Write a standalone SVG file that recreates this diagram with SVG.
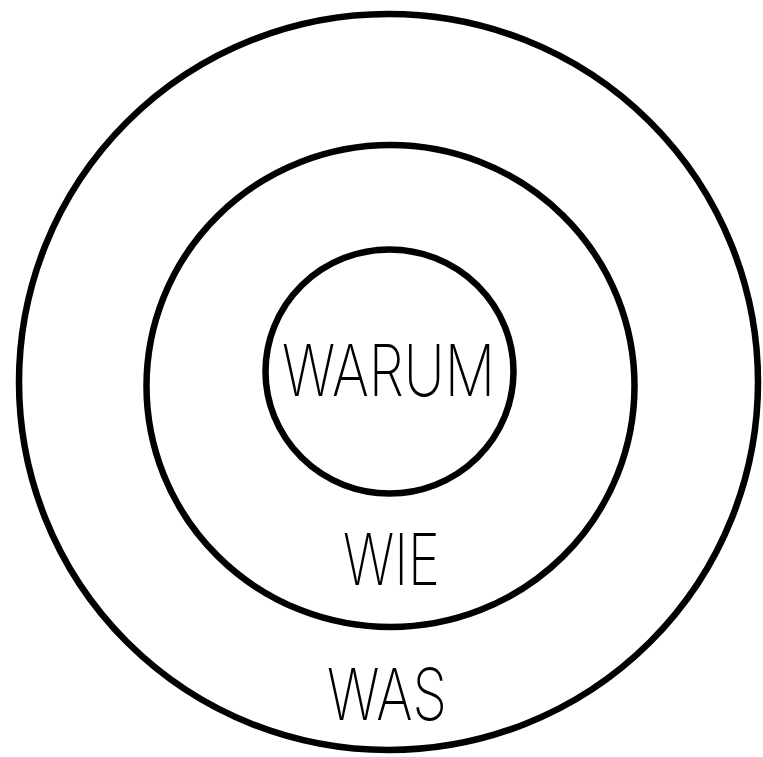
<svg xmlns="http://www.w3.org/2000/svg" width="763" height="757" viewBox="0 0 763 757">
<style>
.ring{fill:none;stroke:#000;stroke-width:6.5}
.lbl{font-family:Inter,"Liberation Sans",sans-serif;font-weight:200;font-size:72px;fill:#000;text-anchor:middle}
</style>
<rect width="763" height="757" fill="#fff"/>
<g id="outer">
<ellipse class="ring" cx="388.5" cy="382" rx="369.5" ry="368"/>
<text class="lbl" x="387" y="720" textLength="120" lengthAdjust="spacingAndGlyphs">WAS</text>
</g>
<g id="middle">
<ellipse class="ring" cx="390.5" cy="386" rx="244" ry="241"/>
<text class="lbl" x="391.5" y="585" textLength="97" lengthAdjust="spacingAndGlyphs">WIE</text>
</g>
<g id="inner">
<ellipse class="ring" cx="389.5" cy="371.5" rx="124" ry="122"/>
<text class="lbl" x="388.5" y="396" textLength="213" lengthAdjust="spacingAndGlyphs">WARUM</text>
</g>
<g id="connectors"/>
</svg>
